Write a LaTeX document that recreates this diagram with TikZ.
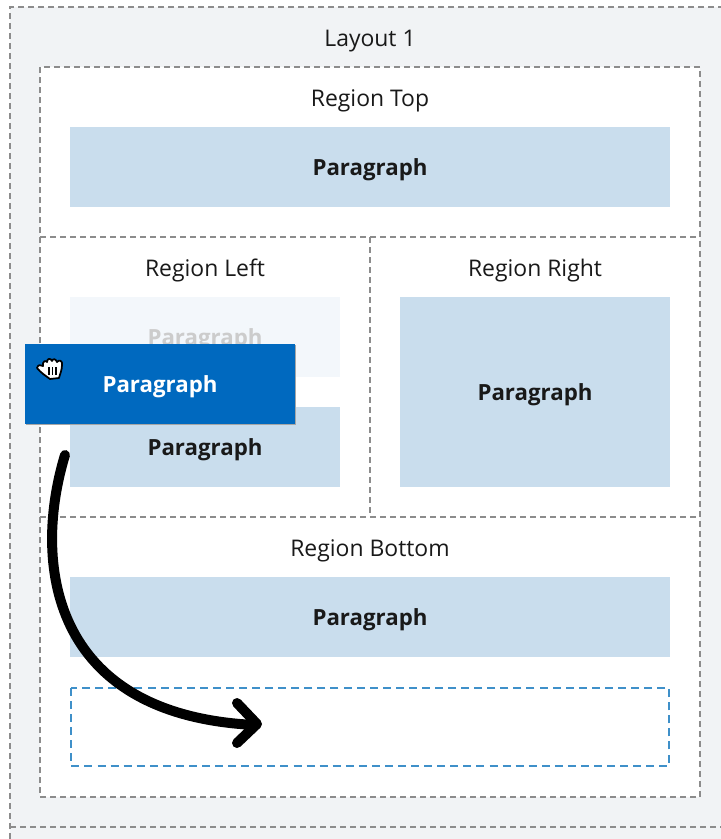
\documentclass[tikz,border=0pt]{standalone}
\usepackage{fontspec}
\setmainfont{Open Sans}
\definecolor{parablue}{HTML}{C9DDED}
\definecolor{bggray}{HTML}{F1F3F5}
\definecolor{ghostblue}{HTML}{F3F7FB}
\definecolor{dragblue}{HTML}{0069BF}
\definecolor{dropblue}{HTML}{3F90C9}
\tikzset{
  x=0.75pt,y=-0.75pt,
  dashgray/.style={draw=black!45,line width=1.15pt,dash pattern=on 4.5pt off 3pt},
  lbl/.style={font=\fontsize{17.2pt}{20pt}\selectfont,text=black!90,inner sep=0pt,anchor=base},
  bold/.style={font=\fontsize{16.7pt}{20pt}\selectfont\bfseries,text=black!90,inner sep=0pt,anchor=base},
  regionbox/.style={dashgray,fill=white},
  bigarrow/.style={black,line width=7.5pt,line cap=round,line join=round}
}
\begin{document}
\begin{tikzpicture}
\useasboundingbox (0,0) rectangle (721,839);
\fill[white] (0,0) rectangle (721,839);
\fill[bggray] (10,7) rectangle (721,839);
\draw[dashgray] (10,839) -- (10,7) -- (721,7);
\draw[dashgray] (10,827) -- (721,827);
\node[lbl] (layout) at (370,46) {Layout 1};
% regions
\draw[regionbox] (40,67) rectangle (700,797);
\draw[dashgray] (40,237) -- (700,237);
\draw[dashgray] (40,517) -- (700,517);
\draw[dashgray] (370,237) -- (370,517);
\node[lbl] (rt) at (370,106) {Region Top};
\node[lbl] (rl) at (205,276) {Region Left};
\node[lbl] (rr) at (535,276) {Region Right};
\node[lbl] (rb) at (370,556) {Region Bottom};
% paragraphs
\fill[parablue] (70,127) rectangle (670,207);
\node[bold] (p1) at (370,175) {Paragraph};
\fill[ghostblue] (70,297) rectangle (340,377);
\node[bold,text=black!20] (p2) at (205,345) {Paragraph};
\fill[parablue] (70,407) rectangle (340,487);
\node[bold] (p3) at (205,455) {Paragraph};
\fill[parablue] (400,297) rectangle (670,487);
\node[bold] (p4) at (535,400) {Paragraph};
\fill[parablue] (70,577) rectangle (670,657);
\node[bold] (p5) at (370,625) {Paragraph};
% drop target
\draw[draw=dropblue,line width=1.1pt,dash pattern=on 6pt off 3.8pt] (71,688) rectangle (669,766);
% dragged
\fill[black!35] (25.5,345) rectangle (295.5,425);
\fill[dragblue] (25,344) rectangle (295,424);
\node[bold,text=white] (p6) at (160,392) {Paragraph};
% hand icon
\begin{scope}[shift={(50,369)}]
\filldraw[fill=white,draw=black,line width=1.3pt,line join=round]
 (-13,-1) .. controls (-12,-5) and (-9,-4) .. (-7,-3)
 .. controls (-8,-8) and (-4,-9) .. (-3,-7)
 .. controls (-3,-11) and (1,-11) .. (2,-8)
 .. controls (3,-11) and (6,-10) .. (7,-7)
 .. controls (9,-10) and (13,-8) .. (12,-4)
 .. controls (12,1) and (10,5) .. (9,9)
 -- (0,10)
 .. controls (-4,7) and (-9,4) .. (-13,-1) -- cycle;
\draw[black,line width=1.3pt] (-1,-2) -- (-1,6) (2.5,-2) -- (2.5,6) (6,-2) -- (6,6);
\end{scope}
% arrow
\coordinate (from) at (65,455);
\coordinate (to) at (255,725);
\draw[bigarrow] (from) .. controls (33,560) and (48,715) .. (to);
\draw[bigarrow] (237,703) -- (257,724) -- (237,743);
\end{tikzpicture}
\end{document}
